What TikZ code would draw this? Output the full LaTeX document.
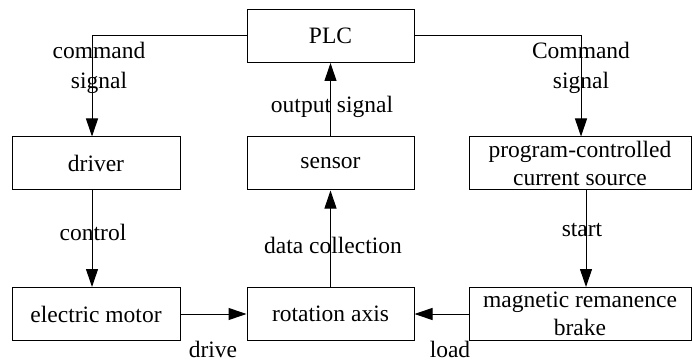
\documentclass[tikz,border=0pt]{standalone}
\usepackage{fontspec}
\setmainfont{Liberation Serif}
\usetikzlibrary{arrows.meta}
\begin{document}
\begin{tikzpicture}[x=1pt,y=-1pt,
  box/.style={draw,line width=1pt,minimum height=53pt,inner sep=0pt,align=center,
    font=\fontsize{23.5}{28}\selectfont},
  lbl/.style={inner sep=0pt,align=center,font=\fontsize{23.5}{30}\selectfont},
  arr/.style={line width=1pt,-{Triangle[length=18pt,width=12pt]}}]
\useasboundingbox (0,0) rectangle (692,363);
\node[box,minimum width=167pt] (plc) at (330.5,36) {PLC};
\node[box,minimum width=168pt] (driver) at (96,163.5) {driver};
\node[box,minimum width=167pt] (sensor) at (330.5,163.5) {sensor};
\node[box,minimum width=222pt] (prog) at (580,163.5) {program-controlled\\current source};
\node[box,minimum width=168pt] (motor) at (96,314) {electric motor};
\node[box,minimum width=167pt] (axis) at (330.5,314) {rotation axis};
\node[box,minimum width=222pt] (brake) at (580,314) {magnetic remanence\\brake};
\draw[arr] (plc.west) -| ([xshift=-4pt]driver.north);
\draw[arr] (plc.east) -| ([xshift=1pt]prog.north);
\draw[arr] (sensor.north) -- (plc.south);
\draw[arr] ([xshift=-4pt]driver.south) -- ([xshift=-4pt]motor.north);
\draw[arr] (axis.north) -- (sensor.south);
\draw[arr] ([xshift=6pt]prog.south) -- ([xshift=6pt]brake.north);
\draw[arr] (motor.east) -- (axis.west);
\draw[arr] (brake.west) -- (axis.east);
\node[lbl] (l1) at (99,68) {command\\signal};
\node[lbl] (l2) at (581,68) {Command\\signal};
\node[lbl] (l3) at (332,107) {output signal};
\node[lbl] (l4) at (93,232) {control};
\node[lbl] (l5) at (333,245) {data collection};
\node[lbl] (l6) at (582,230) {start};
\node[lbl] (l7) at (213,349) {drive};
\node[lbl] (l8) at (450,349) {load};
\end{tikzpicture}
\end{document}
